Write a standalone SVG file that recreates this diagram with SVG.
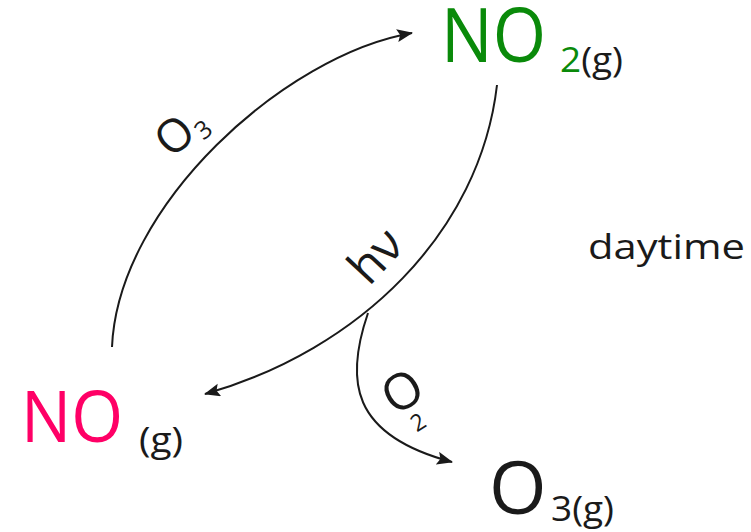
<svg xmlns="http://www.w3.org/2000/svg" width="751" height="532" viewBox="0 0 751 532">
<style>
.t{font-family:"Open Sans","Liberation Sans",sans-serif;fill:#1a1a1a}
.c{fill:none;stroke:#1a1a1a;stroke-width:2}
.pink{fill:#ff0066}
.green{fill:#0a8a0a}
</style>
<defs>
<marker id="ah" markerUnits="userSpaceOnUse" markerWidth="18" markerHeight="14" refX="15" refY="6.5" orient="auto">
<path d="M0,0 L16,6.5 L0,13 L3,6.5 z" fill="#1a1a1a"/>
</marker>
</defs>
<rect width="751" height="532" fill="#fff"/>
<g id="connectors">
<path class="c" d="M112,347 C118,205 285,55 412,33" marker-end="url(#ah)"/>
<path class="c" d="M497,85 C480,232 360,350 205,394" marker-end="url(#ah)"/>
<path class="c" d="M368,313 C345,380 350,435 452,462" marker-end="url(#ah)"/>
</g>
<g id="label-o3">
<text class="t" transform="translate(174,135) rotate(-40)"><tspan x="0" y="16.5" text-anchor="middle" font-size="46">O</tspan><tspan x="26" y="23.6" text-anchor="middle" font-size="25">3</tspan></text>
</g>
<g id="label-hv">
<text class="t" font-size="48" transform="translate(369,287) rotate(-47)">hν</text>
</g>
<g id="label-o2">
<text class="t" transform="translate(402,391) rotate(-32)"><tspan x="0" y="18" text-anchor="middle" font-size="50">O</tspan><tspan x="-3" y="43" text-anchor="middle" font-size="23">2</tspan></text>
</g>
<g id="node-no">
<text class="t" x="21" y="442" font-size="72" textLength="102" lengthAdjust="spacingAndGlyphs"><tspan class="pink">NO</tspan></text>
<text class="t" x="139" y="452" font-size="34" textLength="44" lengthAdjust="spacingAndGlyphs">(g)</text>
</g>
<g id="node-no2">
<text class="t" x="441" y="62" font-size="75" textLength="105" lengthAdjust="spacingAndGlyphs"><tspan class="green">NO</tspan></text>
<text class="t" x="560" y="72" font-size="34" textLength="63" lengthAdjust="spacingAndGlyphs"><tspan class="green">2</tspan>(g)</text>
</g>
<g id="node-o3">
<text class="t" x="489" y="514" font-size="74">O</text>
<text class="t" x="551" y="521" font-size="34" textLength="63" lengthAdjust="spacingAndGlyphs">3(g)</text>
</g>
<g id="label-daytime">
<text class="t" x="588" y="259" font-size="35" textLength="157" lengthAdjust="spacingAndGlyphs">daytime</text>
</g>
</svg>
